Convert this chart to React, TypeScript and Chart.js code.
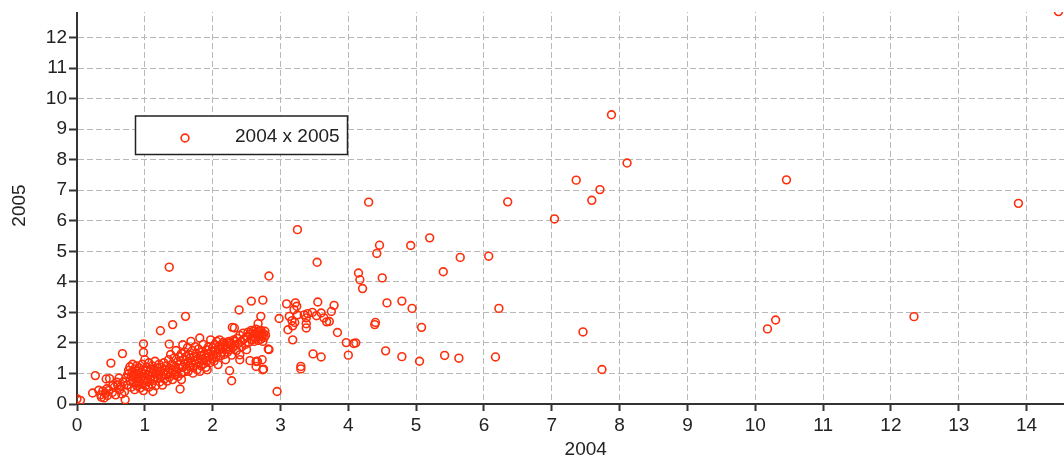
import React, { useEffect, useRef } from 'react';
import { Chart, registerables } from 'chart.js';

Chart.register(...registerables);

const seriesLabel = '2004 x 2005';
const xAxisTitle = '2004';
const yAxisTitle = '2005';
const xTickValues = [0, 1, 2, 3, 4, 5, 6, 7, 8, 9, 10, 11, 12, 13, 14, 15];
const yTickValues = [0, 1, 2, 3, 4, 5, 6, 7, 8, 9, 10, 11, 12, 13];

// dense band of points, x 0 .. 2.8
const coreCluster: [number, number][] = [
  [0.0, 0.17], [0.05, 0.12], [0.27, 0.93], [0.23, 0.36], [0.32, 0.45], [0.4, 0.2], [0.43, 0.82], [0.5, 1.34],
  [0.48, 0.83], [0.67, 1.65], [0.71, 0.14], [0.59, 0.71], [0.63, 0.47], [0.35, 0.3], [0.38, 0.42], [0.42, 0.35],
  [0.45, 0.28], [0.47, 0.45], [0.52, 0.38], [0.55, 0.55], [0.57, 0.3], [0.6, 0.62], [0.62, 0.85], [0.65, 0.58],
  [0.44, 0.5], [0.36, 0.22], [0.53, 0.62], [0.68, 0.72], [0.7, 0.4], [0.66, 0.33],
  [0.72, 0.85], [0.74, 0.62], [0.75, 0.98], [0.76, 1.1], [0.78, 0.75], [0.78, 1.22], [0.8, 0.55], [0.8, 0.9],
  [0.81, 1.05], [0.82, 1.3], [0.83, 0.7], [0.84, 0.95], [0.85, 0.47], [0.85, 1.15], [0.86, 0.82], [0.87, 1.0],
  [0.88, 0.6], [0.88, 1.25], [0.89, 0.88], [0.9, 1.08], [0.91, 0.72], [0.92, 0.95], [0.92, 1.18], [0.93, 0.52],
  [0.94, 0.84], [0.95, 1.02], [0.96, 0.65], [0.96, 1.3], [0.97, 0.9], [0.98, 1.12], [0.98, 0.44], [0.99, 0.78],
  [1.0, 0.98], [1.0, 1.45], [1.01, 0.6], [1.02, 1.08], [1.02, 0.86], [1.03, 1.2], [1.04, 0.72], [1.05, 0.95],
  [1.06, 1.35], [1.06, 0.55], [1.07, 1.05], [1.08, 0.82], [1.09, 1.15], [1.1, 0.92], [1.1, 0.65], [1.11, 1.25],
  [1.12, 1.0], [1.13, 0.78], [1.14, 1.1], [1.15, 0.88], [1.15, 1.4], [1.16, 0.6], [1.17, 1.02], [1.18, 1.18],
  [1.19, 0.85], [1.2, 0.95], [1.21, 1.3], [1.22, 0.72], [1.23, 1.08], [1.24, 0.9], [1.25, 1.2], [1.26, 0.62],
  [1.27, 1.0], [1.28, 1.35], [1.29, 0.82], [1.3, 1.12], [0.98, 1.69], [0.98, 1.97], [1.23, 2.4], [1.36, 1.96],
  [1.41, 2.6], [1.6, 2.87], [1.12, 0.41],
  [1.31, 0.95], [1.32, 1.25], [1.33, 0.75], [1.34, 1.05], [1.35, 1.45], [1.36, 0.88], [1.37, 1.15], [1.38, 1.62],
  [1.39, 1.0], [1.4, 1.3], [1.41, 0.8], [1.42, 1.12], [1.43, 1.5], [1.44, 0.95], [1.45, 1.22], [1.46, 1.75],
  [1.47, 1.05], [1.48, 1.38], [1.49, 0.9], [1.5, 1.18], [1.51, 1.55], [1.52, 0.49], [1.52, 1.3], [1.53, 1.0],
  [1.54, 0.8], [1.54, 1.65],
  [1.56, 1.94], [1.56, 1.2], [1.57, 1.45], [1.58, 1.05], [1.59, 1.7], [1.6, 1.32], [1.61, 1.55], [1.62, 1.15],
  [1.63, 1.85], [1.64, 1.07], [1.64, 1.4], [1.65, 1.62], [1.66, 1.25], [1.67, 1.5], [1.68, 2.05], [1.69, 1.35],
  [1.7, 1.75], [1.71, 1.01], [1.71, 1.2], [1.72, 1.55], [1.73, 1.42], [1.74, 1.88], [1.75, 1.3], [1.76, 1.65],
  [1.77, 1.12], [1.78, 1.48], [1.79, 1.8], [1.8, 1.38], [1.81, 2.16], [1.81, 1.07], [1.82, 1.58], [1.83, 1.25],
  [1.84, 1.7], [1.85, 1.45], [1.86, 1.95], [1.87, 1.32], [1.88, 1.62], [1.89, 1.52], [1.9, 1.2], [1.91, 1.78],
  [1.92, 1.12], [1.92, 1.42], [1.93, 1.65], [1.94, 1.88], [1.95, 1.55], [1.96, 1.35], [1.97, 2.1], [1.98, 1.72],
  [1.99, 1.48], [2.0, 1.85], [2.01, 1.6], [2.02, 1.4], [2.03, 1.95], [2.04, 1.75], [2.05, 1.55], [2.06, 2.05],
  [2.07, 1.68], [2.08, 1.29], [2.09, 1.88], [2.1, 2.1], [2.11, 1.78], [2.12, 1.58], [2.13, 1.95], [2.14, 1.7],
  [2.15, 1.85], [2.16, 2.02], [2.17, 1.62], [2.18, 1.92], [2.19, 1.45], [2.2, 1.8],
  [2.21, 2.0], [2.22, 1.7], [2.23, 1.88], [2.24, 2.05], [2.25, 1.09], [2.25, 2.0], [2.26, 1.78], [2.27, 1.95],
  [2.28, 0.76], [2.28, 1.6], [2.29, 2.51], [2.3, 1.85], [2.31, 2.1], [2.32, 2.05], [2.32, 2.49], [2.33, 1.92],
  [2.35, 1.75], [2.36, 2.15], [2.38, 1.98], [2.4, 1.61], [2.4, 1.45], [2.4, 2.25], [2.42, 2.05], [2.43, 1.88],
  [2.45, 2.32], [2.46, 2.12], [2.48, 1.95], [2.5, 1.78], [2.5, 2.2], [2.52, 2.35], [2.53, 2.02], [2.55, 1.42],
  [2.55, 2.28], [2.57, 2.41], [2.58, 2.1], [2.59, 2.22], [2.6, 2.38], [2.61, 2.05], [2.62, 2.3], [2.63, 2.15],
  [2.64, 1.39], [2.64, 2.45], [2.65, 2.25], [2.66, 2.35], [2.67, 2.63], [2.67, 2.08], [2.68, 2.2], [2.69, 2.4],
  [2.7, 2.28], [2.71, 2.12], [2.71, 2.41], [2.72, 2.32], [2.73, 1.45], [2.73, 2.22], [2.74, 2.05], [2.75, 1.14],
  [2.75, 2.3], [2.76, 2.18], [2.77, 2.38], [2.78, 2.25], [2.83, 1.78],
];

// points between x 2.4 and 4
const midSpread: [number, number][] = [
  [2.74, 3.4], [2.57, 3.37], [2.39, 3.08], [3.09, 3.28], [3.22, 3.31], [3.24, 3.2], [3.2, 3.09], [3.55, 3.34],
  [3.79, 3.23], [3.75, 3.03], [3.72, 2.7], [3.84, 2.34], [2.71, 2.87], [2.98, 2.8], [3.13, 2.87], [3.17, 2.73],
  [3.25, 2.92], [3.35, 2.92], [3.4, 2.96], [3.47, 3.0], [3.53, 2.89], [3.6, 2.98], [3.64, 2.82], [3.68, 2.69],
  [3.38, 2.82], [3.38, 2.63], [3.38, 2.49], [3.21, 2.67], [3.18, 2.56], [3.11, 2.43], [3.18, 2.1], [3.48, 1.64],
  [3.6, 1.54], [3.3, 1.23], [3.3, 1.15], [2.95, 0.41], [2.82, 1.8], [2.66, 1.4], [2.74, 1.12], [2.64, 1.23],
  [3.97, 2.01], [4.08, 1.98], [4.11, 2.0], [4.0, 1.6], [2.83, 4.19], [3.25, 5.71], [3.54, 4.64], [1.36, 4.48],
];

// scattered points further out
const outliers: [number, number][] = [
  [14.47, 12.85], [7.88, 9.47], [8.11, 7.89], [7.36, 7.33], [7.71, 7.02], [7.59, 6.67], [7.04, 6.06], [6.35, 6.62],
  [10.46, 7.34], [13.88, 6.57], [12.34, 2.86], [10.18, 2.46], [10.3, 2.75], [4.3, 6.61], [5.2, 5.44], [4.46, 5.2],
  [4.42, 4.93], [4.92, 5.19], [5.65, 4.8], [6.07, 4.84], [5.4, 4.33], [4.15, 4.29], [4.17, 4.07], [4.21, 3.78],
  [4.5, 4.13], [4.57, 3.31], [4.79, 3.37], [4.94, 3.13], [6.22, 3.13], [4.39, 2.6], [4.4, 2.67], [5.08, 2.51],
  [7.46, 2.36], [4.55, 1.74], [4.79, 1.55], [5.05, 1.4], [5.42, 1.59], [5.63, 1.5], [6.17, 1.54], [7.74, 1.13],
];

const pointColor = 'rgb(255, 45, 10)';
const fontFamily = '"Liberation Sans", Arial, sans-serif';

const boxLegend = {
  id: 'boxLegend',
  afterDraw(chart: any) {
    const ctx = chart.ctx as CanvasRenderingContext2D;
    const label = chart.data.datasets[0].label as string;
    ctx.save();
    ctx.fillStyle = '#ffffff';
    ctx.fillRect(135.5, 116, 212, 38.5);
    ctx.lineWidth = 1.5;
    ctx.strokeStyle = '#222222';
    ctx.strokeRect(135.5, 116, 212, 38.5);
    ctx.beginPath();
    ctx.arc(185, 138, 3.9, 0, Math.PI * 2);
    ctx.lineWidth = 1.6;
    ctx.strokeStyle = pointColor;
    ctx.stroke();
    ctx.fillStyle = '#222222';
    ctx.font = '19px ' + fontFamily;
    ctx.textBaseline = 'middle';
    ctx.textAlign = 'left';
    ctx.fillText(label, 235, 137);
    ctx.restore();
  },
};

export default function App() {
  const ref = useRef<HTMLCanvasElement | null>(null);

  useEffect(() => {
    if (!ref.current) return;
    const all = [...coreCluster, ...midSpread, ...outliers].map(([x, y]) => ({ x, y }));
    const chart = new Chart(ref.current, {
      type: 'scatter',
      data: {
        datasets: [
          {
            label: seriesLabel,
            data: all,
            pointStyle: 'circle',
            pointRadius: 3.9,
            pointBorderWidth: 1.6,
            borderColor: pointColor,
            backgroundColor: 'rgba(0,0,0,0)',
          },
        ],
      },
      options: {
        animation: false,
        responsive: false,
        devicePixelRatio: 1,
        layout: { padding: { top: 7, right: 5, left: 0, bottom: 0 } },
        plugins: {
          legend: { display: false },
          tooltip: { enabled: false },
        },
        scales: {
          x: {
            type: 'linear',
            min: 0,
            max: 15,
            afterBuildTicks: (scale: any) => {
              scale.ticks = xTickValues.map((v) => ({ value: v }));
            },
            afterFit: (scale: any) => {
              scale.height = 58;
              scale.paddingLeft = 0;
              scale.paddingRight = 0;
            },
            ticks: {
              color: '#222',
              font: { family: fontFamily, size: 19 },
              padding: 3,
              maxRotation: 0,
              autoSkip: false,
            },
            grid: {
              color: '#b8b8b8',
              lineWidth: 1,
              tickLength: 7,
              tickColor: '#333',
              tickWidth: 2,
            },
            border: { display: true, color: '#333', width: 2, dash: [6, 3] },
            title: {
              display: true,
              text: xAxisTitle,
              color: '#222',
              font: { family: fontFamily, size: 19 },
              padding: { top: 0, bottom: 1 },
            },
          },
          y: {
            type: 'linear',
            min: 0,
            max: 13,
            afterBuildTicks: (scale: any) => {
              scale.ticks = yTickValues.map((v) => ({ value: v }));
            },
            afterFit: (scale: any) => {
              scale.width = 77;
              scale.paddingTop = 0;
              scale.paddingBottom = 0;
            },
            ticks: {
              color: '#222',
              font: { family: fontFamily, size: 19 },
              padding: 2,
              autoSkip: false,
            },
            grid: {
              color: '#b8b8b8',
              lineWidth: 1,
              tickLength: 8,
              tickColor: '#333',
              tickWidth: 2,
            },
            border: { display: true, color: '#333', width: 2, dash: [6, 3] },
            title: {
              display: true,
              text: yAxisTitle,
              color: '#222',
              font: { family: fontFamily, size: 19 },
              padding: { top: 8, bottom: 0 },
            },
          },
        },
      },
      plugins: [boxLegend],
    });
    return () => chart.destroy();
  }, []);

  return (
    <div
      style={{
        position: 'absolute',
        left: 0,
        top: 0,
        width: 1064,
        height: 462,
        overflow: 'hidden',
        background: '#fff',
        clipPath: 'inset(12px 0 0 0)',
      }}
    >
      <canvas ref={ref} width={1100} height={462} style={{ display: 'block' }} />
    </div>
  );
}
